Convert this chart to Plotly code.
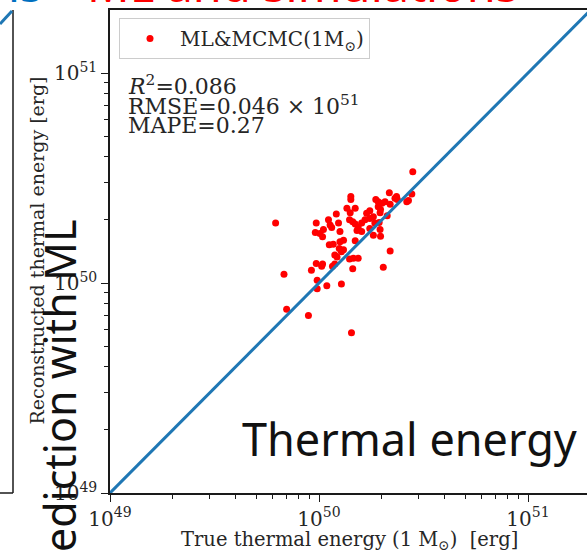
import plotly.graph_objects as go

# Data: true vs reconstructed thermal energy, in units of 1e50 erg
true_e = [2.81, 1.42, 1.42, 2.17, 2.35, 2.37, 1.87, 1.92, 2.07, 2.78,
          2.63, 2.68, 2.19, 1.36, 1.49, 1.75, 1.69, 1.92, 1.97, 1.96,
          1.21, 1.41, 1.11, 1.24, 1.40, 1.45, 1.49, 1.54, 1.60, 1.66,
          1.75, 1.82, 1.85, 1.94, 0.97, 1.05, 0.96, 1.01, 1.04, 1.13,
          1.15, 1.26, 1.52, 1.60, 1.75, 1.96, 1.82, 1.97, 1.49, 1.31,
          1.26, 1.17, 1.12, 1.25, 1.31, 1.28, 1.19, 1.22, 2.19, 1.40,
          1.46, 1.54, 0.97, 1.04, 1.03, 0.92, 1.19, 1.16, 1.45, 2.03,
          0.98, 1.28, 1.09, 0.98, 0.89, 1.43, 0.62, 0.68, 0.70, 2.00,
          2.12, 2.31]
recon_e = [3.39, 2.58, 2.50, 2.69, 2.58, 2.50, 2.50, 2.44, 2.44, 2.65,
           2.44, 2.47, 2.37, 2.27, 2.27, 2.21, 2.15, 2.31, 2.24, 2.16,
           2.13, 2.16, 2.00, 1.93, 2.00, 1.96, 1.91, 1.85, 1.93, 2.00,
           2.03, 2.07, 1.93, 1.94, 1.93, 1.80, 1.74, 1.72, 1.66, 1.89,
           1.84, 1.76, 1.78, 1.76, 1.82, 1.80, 1.69, 1.67, 1.59, 1.60,
           1.57, 1.53, 1.52, 1.46, 1.44, 1.41, 1.36, 1.33, 1.42, 1.30,
           1.31, 1.31, 1.24, 1.23, 1.20, 1.15, 1.23, 1.20, 1.17, 1.19,
           1.03, 0.99, 0.97, 0.94, 0.70, 0.58, 1.93, 1.10, 0.75, 2.40,
           2.09, 2.53]
UNIT = 1e50

major_ticks = [1e49, 1e50, 1e51]
major_text = ["10<sup>49</sup>", "10<sup>50</sup>", "10<sup>51</sup>"]
minor_ticks = [float(m) * 10.0 ** e for e in (49, 50, 51) for m in range(2, 10)]

stats_lines = ["<i>R</i><sup>2</sup>=0.086", "RMSE=0.046 × 10<sup>51</sup>", "MAPE=0.27"]

W, H = 587, 550
def X(px):
    return px / W
def Y(py):
    return 1 - py / H

SERIF = "DejaVu Serif"
SANS = "Noto Sans"
TXT = "#262626"

fig = go.Figure()
fig.add_trace(go.Scatter(
    x=[v * UNIT for v in true_e], y=[v * UNIT for v in recon_e],
    mode="markers", name="ML&amp;MCMC(1M<sub>⊙</sub>)",
    marker=dict(color="#ff0000", size=7, line=dict(width=0)),
))
fig.add_trace(go.Scatter(
    x=[1e49, 10.0 ** 51.35], y=[1e49, 10.0 ** 51.35], mode="lines",
    line=dict(color="#1f77b4", width=3), showlegend=False,
))

axis_common = dict(
    type="log", showgrid=False, zeroline=False, automargin=False,
    showline=True, linecolor="#1a1a1a", linewidth=1.5,
    ticks="outside", ticklen=7, tickwidth=1.2, tickcolor="#1a1a1a",
    tickvals=major_ticks, ticktext=major_text,
    tickfont=dict(family=SERIF, size=20, color=TXT),
    minor=dict(tickvals=minor_ticks, ticks="outside", ticklen=4,
               tickwidth=1, tickcolor="#1a1a1a", showgrid=False),
)
fig.update_xaxes(**axis_common, domain=[X(110), 1], range=[49, 49 + 477 / 209],
                 mirror=True, anchor="y")
fig.update_yaxes(**axis_common, domain=[Y(493), Y(10)], range=[49, 49 + 483 / 210],
                 mirror=False, anchor="x")

ann = []
# axis titles
ann.append(dict(x=X(349), y=Y(540), xref="paper", yref="paper", showarrow=False,
                text="True thermal energy (1 M<sub>⊙</sub>)  [erg]",
                font=dict(family=SERIF, size=19.5, color=TXT), xanchor="center", yanchor="middle"))
ann.append(dict(x=X(36.5), y=Y(251), xref="paper", yref="paper", showarrow=False,
                text="Reconstructed thermal energy [erg]", textangle=-90,
                font=dict(family=SERIF, size=19, color=TXT), xanchor="center", yanchor="middle"))
# stats
for i, s in enumerate(stats_lines):
    ann.append(dict(x=X(126), y=Y(85 + 20 * i), xref="paper", yref="paper", showarrow=False,
                    text=s, font=dict(family=SERIF, size=22, color=TXT),
                    xanchor="left", yanchor="middle"))
# slide texts
ann.append(dict(x=X(240), y=Y(438), xref="paper", yref="paper", showarrow=False,
                text="Thermal energy", font=dict(family=SANS, size=45, color="#111111"),
                xanchor="left", yanchor="middle"))
ann.append(dict(x=X(59), y=Y(408), xref="paper", yref="paper", showarrow=False,
                text="Prediction with ML", textangle=-90,
                font=dict(family=SANS, size=43, color="#111111"),
                xanchor="center", yanchor="middle"))
ann.append(dict(x=X(85), y=Y(-16), xref="paper", yref="paper", showarrow=False,
                text="ML and simulations", font=dict(family=SANS, size=47, color="#ff0000"),
                xanchor="left", yanchor="middle"))
ann.append(dict(x=X(44), y=Y(-16), xref="paper", yref="paper", showarrow=False,
                text="Observations", font=dict(family=SANS, size=47, color="#0070c0"),
                xanchor="right", yanchor="middle"))

shapes = [
    # neighbouring panel edge (left)
    dict(type="line", xref="paper", yref="paper", x0=X(13), x1=X(13), y0=Y(10), y1=Y(493),
         line=dict(color="#1a1a1a", width=1.5)),
    dict(type="line", xref="paper", yref="paper", x0=X(0), x1=X(13), y0=Y(493), y1=Y(493),
         line=dict(color="#1a1a1a", width=1.5)),
    dict(type="line", xref="paper", yref="paper", x0=X(0), x1=X(12), y0=Y(24), y1=Y(11),
         line=dict(color="#1f77b4", width=3)),
]

fig.update_layout(
    width=W, height=H, margin=dict(l=0, r=0, t=0, b=0, autoexpand=False),
    paper_bgcolor="white", plot_bgcolor="white",
    annotations=ann, shapes=shapes,
    legend=dict(x=X(119), y=Y(18), xanchor="left", yanchor="top",
                bgcolor="white", bordercolor="#cccccc", borderwidth=1,
                font=dict(family=SERIF, size=20, color=TXT), itemwidth=50),
)

fig.write_html("out.html")
